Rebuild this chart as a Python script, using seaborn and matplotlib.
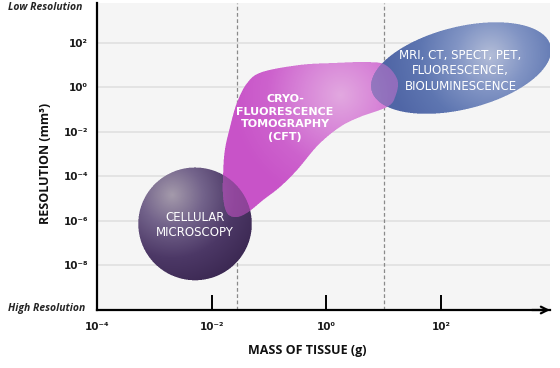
import numpy as np
import matplotlib
matplotlib.use("Agg")
import matplotlib.pyplot as plt
import seaborn as sns
from matplotlib.colors import LinearSegmentedColormap
from matplotlib.path import Path
from matplotlib.ticker import FixedLocator, FuncFormatter, NullLocator

# ---------------------------------------------------------------------------
# Data (log10 exponents unless noted)
# ---------------------------------------------------------------------------
X_TICK_EXP = [-4, -2, 0, 2]
Y_TICK_EXP = [-8, -6, -4, -2, 0, 2]
X_RANGE_EXP = (-4.0, 3.9)
Y_RANGE_EXP = (-10.03, 3.8)
BOUNDARY_MASS = [0.028, 10.0]  # dashed boundaries, grams

# cellular microscopy sphere (centre + radii in decades)
CELL_CENTER = (-2.29, -6.15)
CELL_RADIUS = (0.99, 2.54)

# cryo-fluorescence tomography outline
CFT_MASS = [-1.38, -1.12, -0.46, 0.15, 0.71, 1.03, 1.24, 1.20, 1.06, 0.59, 0.24,
            -0.14, -0.51, -0.81, -1.10, -1.36, -1.57, -1.73, -1.80, -1.80, -1.77,
            -1.68, -1.56]
CFT_RES = [0.20, 0.69, 1.01, 1.10, 1.14, 1.01, 0.33, -0.43, -0.88, -1.33, -1.78,
           -2.59, -3.72, -4.49, -5.07, -5.61, -5.84, -5.66, -4.94, -3.86, -2.82,
           -1.78, -0.70]

# whole-body imaging ellipse: centre, half-width, tilt, half-height (decades)
BODY_CENTER = (2.35, 0.87)
BODY_SHAPE = (1.57, 0.80, 1.90)

LABELS = ["CELLULAR\nMICROSCOPY", "CRYO-\nFLUORESCENCE\nTOMOGRAPHY\n(CFT)",
          "MRI, CT, SPECT, PET,\nFLUORESCENCE,\nBIOLUMINESCENCE"]
LABEL_MASS = [-2.29, -0.72, 2.34]
LABEL_RES = [-6.22, -1.38, 0.74]

SUP = str.maketrans("-0123456789", "⁻⁰¹²³⁴⁵⁶⁷⁸⁹")
AXFONT = ["Open Sans", "DejaVu Sans"]

sns.set_theme(style="whitegrid")
plt.rcParams.update({"font.family": AXFONT, "font.weight": "bold"})


def catmull(px, py, n=24):
    P = np.column_stack([px, py])
    t = np.linspace(0, 1, n, endpoint=False)[:, None]
    out = []
    for i in range(len(P)):
        p0, p1, p2, p3 = P[i - 1], P[i], P[(i + 1) % len(P)], P[(i + 2) % len(P)]
        out.append(0.5 * (2 * p1 + (-p0 + p2) * t + (2 * p0 - 5 * p1 + 4 * p2 - p3) * t ** 2
                          + (-p0 + 3 * p1 - 3 * p2 + p3) * t ** 3))
    out = np.vstack(out)
    return out[:, 0], out[:, 1]


fig = plt.figure(figsize=(5.6, 3.68), dpi=100)
ax = fig.add_axes([97 / 560, 58 / 368, 453 / 560, 307 / 368])
ax.set_xscale("log")
ax.set_yscale("log")
ax.set_xlim(10 ** X_RANGE_EXP[0], 10 ** X_RANGE_EXP[1])
ax.set_ylim(10 ** Y_RANGE_EXP[0], 10 ** Y_RANGE_EXP[1])
ax.set_facecolor("#f5f5f5")

W, H = ax.bbox.width, ax.bbox.height
SS = 3
gw, gh = int(round(W)), int(round(H))
U, V = np.meshgrid((np.arange(gw * SS) + 0.5) / (gw * SS), (np.arange(gh * SS) + 0.5) / (gh * SS))
PTS = np.column_stack([U.ravel(), V.ravel()])
uu, vv = np.meshgrid((np.arange(gw) + 0.5) / gw, (np.arange(gh) + 0.5) / gh)
to_axes = ax.transData + ax.transAxes.inverted()


def mask_of(lx, ly):
    verts = to_axes.transform(np.column_stack([10 ** np.asarray(lx), 10 ** np.asarray(ly)]))
    m = Path(verts).contains_points(PTS).reshape(gh * SS, gw * SS).astype(float)
    return m.reshape(gh, SS, gw, SS).mean(axis=(1, 3))


def shade(hx, hy, radius, colors):
    hu, hv = to_axes.transform([[10 ** hx, 10 ** hy]])[0]
    d = np.hypot((uu - hu) * W, (vv - hv) * H) / radius
    cmap = LinearSegmentedColormap.from_list("g", colors)
    return cmap(np.clip(d, 0, 1))


def draw(rgba, alpha, z):
    img = rgba.copy()
    img[..., 3] = alpha
    ax.imshow(img, origin="lower", extent=(0, 1, 0, 1), transform=ax.transAxes,
              aspect="auto", interpolation="bilinear", zorder=z)


# shape outlines
t = np.linspace(0, 2 * np.pi, 400)
cell_x = CELL_CENTER[0] + CELL_RADIUS[0] * np.cos(t)
cell_y = CELL_CENTER[1] + CELL_RADIUS[1] * np.sin(t)
cft_x, cft_y = catmull(CFT_MASS, CFT_RES)
body_x = BODY_CENTER[0] + BODY_SHAPE[0] * np.cos(t)
body_y = BODY_CENTER[1] + BODY_SHAPE[1] * np.cos(t) + BODY_SHAPE[2] * np.sin(t)

m_cell = mask_of(cell_x, cell_y)
m_cft = mask_of(cft_x, cft_y)
m_body = mask_of(body_x, body_y)

g_cell = shade(-2.69, -4.85, 95, ["#a49aab", "#72628a", "#4c3866", "#3b2852"])
g_cft = shade(0.25, -0.35, 110, ["#e2a8e0", "#d886d8", "#cd62cd", "#c853c8"])
g_body = shade(2.86, 1.45, 105, ["#b3bdd8", "#8194c4", "#5e76b1", "#5066a6"])

draw(g_cell, m_cell, 3)
draw(g_cft, m_cft, 3.1)
draw(g_cell, 0.45 * m_cell * m_cft, 3.2)
draw(g_body, m_body, 3.3)
draw(g_cft, 0.5 * m_cft * m_body, 3.4)

for xb in BOUNDARY_MASS:
    ax.axvline(xb, color="#8a8a8a", lw=0.9, ls=(0, (3, 2)), zorder=2)

# text on shapes
styles = [dict(weight="normal", linespacing=1.2, fontsize=8.5),
          dict(weight="bold", linespacing=1.3, fontsize=8),
          dict(weight="normal", linespacing=1.25, fontsize=8.5)]
for lab, lx, ly, st in zip(LABELS, LABEL_MASS, LABEL_RES, styles):
    ax.text(10 ** lx, 10 ** ly, lab, ha="center", va="center", color="white",
            family="DejaVu Sans", zorder=6, **st)

# axes styling
ax.xaxis.set_major_locator(FixedLocator([10.0 ** e for e in X_TICK_EXP]))
ax.yaxis.set_major_locator(FixedLocator([10.0 ** e for e in Y_TICK_EXP]))
ax.xaxis.set_minor_locator(NullLocator())
ax.yaxis.set_minor_locator(NullLocator())
fmt = FuncFormatter(lambda v, _: "10" + str(int(round(np.log10(v)))).translate(SUP))
ax.xaxis.set_major_formatter(fmt)
ax.yaxis.set_major_formatter(fmt)
ax.grid(axis="x", visible=False)
ax.grid(axis="y", color="#dedede", lw=1.1)
ax.tick_params(axis="x", direction="in", length=11, width=1.4, color="black",
               pad=9, labelsize=7.5, bottom=True, labelcolor="#1a1a1a",
               labelfontfamily="DejaVu Sans")
ax.tick_params(axis="y", length=0, pad=6.5, labelsize=7.5, labelcolor="#1a1a1a",
               labelfontfamily="DejaVu Sans")
for s in ["top", "right"]:
    ax.spines[s].set_visible(False)
for s in ["left", "bottom"]:
    ax.spines[s].set_color("black")
    ax.spines[s].set_linewidth(1.6)
ax.annotate("", xy=(1.0, 0), xytext=(0.96, 0), xycoords="axes fraction",
            arrowprops=dict(arrowstyle="->", lw=1.6, color="black",
                            shrinkA=0, shrinkB=0, mutation_scale=12))

ax.set_xlabel("MASS OF TISSUE (g)", fontsize=9, fontweight="bold", color="#111111")
ax.xaxis.set_label_coords(210 / 453, -34 / 307)
ax.set_ylabel("RESOLUTION (mm³)", fontsize=9, fontweight="bold", color="#111111")
ax.yaxis.set_label_coords(-45 / 453, 0.478)

fig.text(8 / 560, 1 - 8 / 368, "Low Resolution", fontsize=7.5, fontweight="bold",
         fontstyle="italic", va="center", ha="left")
fig.text(8 / 560, 1 - 309 / 368, "High Resolution", fontsize=7.5, fontweight="bold",
         fontstyle="italic", va="center", ha="left")

fig.savefig("out.png", dpi=100)
